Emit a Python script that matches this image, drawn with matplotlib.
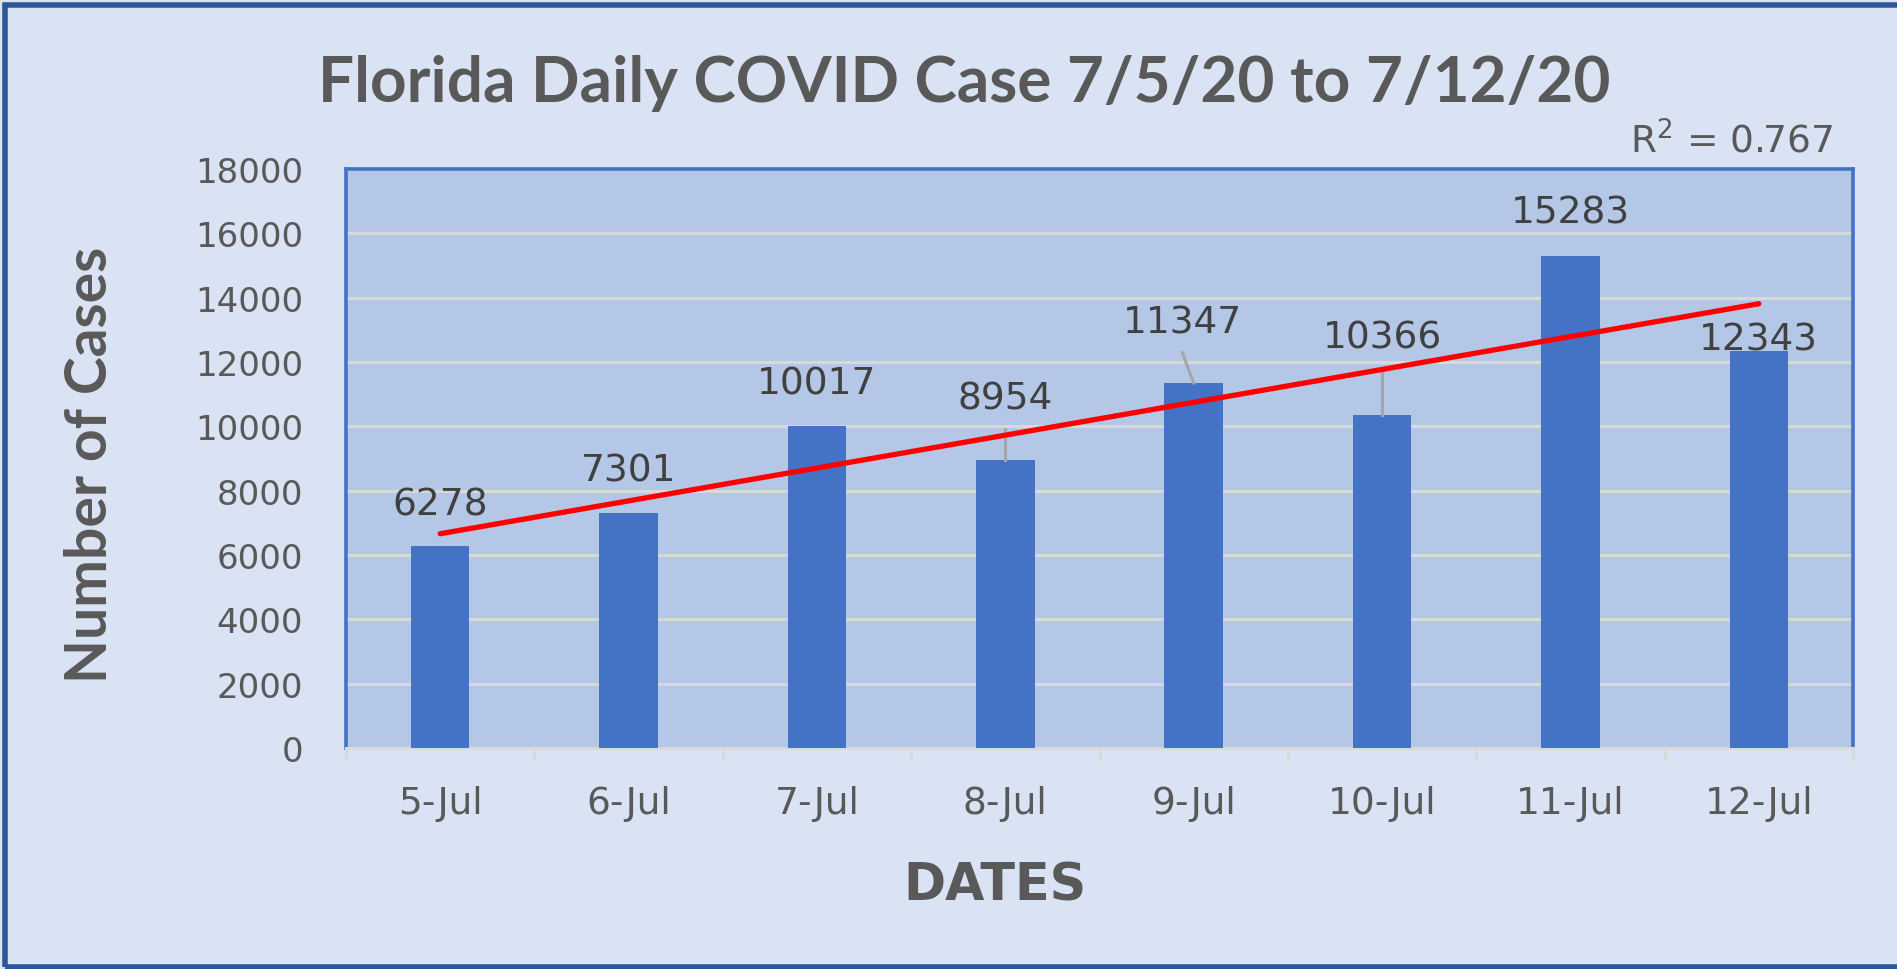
import numpy as np
import matplotlib
matplotlib.use("Agg")
import matplotlib.pyplot as plt
from matplotlib.patches import Rectangle

# data
dates = ["5-Jul", "6-Jul", "7-Jul", "8-Jul", "9-Jul", "10-Jul", "11-Jul", "12-Jul"]
cases = [6278, 7301, 10017, 8954, 11347, 10366, 15283, 12343]
yticks = [0, 2000, 4000, 6000, 8000, 10000, 12000, 14000, 16000, 18000]

# label placement (offset of label centre from bar top, x shift), leader lines
label_dy = [1300, 1340, 1330, 1900, 1890, 2410, 1350, 370]
label_dx = [0, 0, 0, 0, -0.06, 0, 0, 0]
leader = [False, False, False, True, True, True, False, False]

fig_bg = "#DAE3F3"
plot_bg = "#B4C7E7"
bar_col = "#4472C4"
grid_col = "#D9D9D9"
txt_col = "#595959"

fig = plt.figure(figsize=(18.97, 9.70), dpi=100)
fig.patch.set_facecolor(fig_bg)
ax = fig.add_axes([346/1897, 1 - 749/970, (1853-346)/1897, (749-170)/970])
ax.set_facecolor(plot_bg)

x = np.arange(len(cases))
ax.bar(x, cases, width=0.31, color=bar_col, zorder=3)

# linear trendline, like excel
b, a = np.polyfit(x, cases, 1)
fit = a + b * x
r2 = 1 - np.sum((np.array(cases) - fit)**2) / np.sum((np.array(cases) - np.mean(cases))**2)
ax.plot([x[0], x[-1]], [fit[0], fit[-1]], color="#FF0000", lw=3.8, zorder=5,
        solid_capstyle="round")

for i, v in enumerate(cases):
    ly = v + label_dy[i]
    lx = x[i] + label_dx[i]
    ax.text(lx, ly, str(v), ha="center", va="center", fontsize=27,
            color="#404040", zorder=6)
    if leader[i]:
        ax.plot([lx, x[i]], [ly - 950, v], color="#A6A6A6", lw=2.2, zorder=4)

ax.set_xlim(-0.5, len(cases) - 0.5)
ax.set_ylim(0, 18000)
ax.set_yticks(yticks)
ax.set_yticklabels([str(t) for t in yticks])
ax.set_xticks(x)
ax.set_xticklabels(dates)
ax.set_xticks(np.arange(-0.5, len(cases), 1), minor=True)
ax.tick_params(axis="y", length=0, pad=31, labelsize=24.5, labelcolor=txt_col)
ax.tick_params(axis="x", which="major", length=0, pad=27, labelsize=27,
               labelcolor=txt_col)
ax.tick_params(axis="x", which="minor", length=9, width=2, color=grid_col)
ax.grid(axis="y", color=grid_col, lw=2.2, zorder=1)
ax.set_axisbelow(True)

for s in ["left", "right", "top"]:
    ax.spines[s].set_color(bar_col)
    ax.spines[s].set_linewidth(2.6)
ax.spines["bottom"].set_color(grid_col)
ax.spines["bottom"].set_linewidth(2.2)

fig.text(964/1897, 1 - 84/970, "Florida Daily COVID Case 7/5/20 to 7/12/20",
         ha="center", va="center", fontsize=46, fontweight="bold",
         family="Lato", color=txt_col)
fig.text(91/1897, 1 - 465/970, "Number of Cases", rotation=90, ha="center",
         va="center", fontsize=41, fontweight="bold", family="Lato", color=txt_col)
fig.text(995/1897, 1 - 887/970, "DATES", ha="center", va="center",
         fontsize=36.5, fontweight="bold", color=txt_col)
fig.text(1833/1897, 1 - 142/970, "R$^2$ = %.3f" % r2, ha="right", va="center",
         fontsize=27, color=txt_col)

# outer chart border (no right edge in the original)
fig.patches.append(Rectangle((5/1897, 2/970), 1.2, 1 - 8/970, transform=fig.transFigure,
                             fill=False, edgecolor="#2F5597", lw=4, zorder=10))

fig.savefig("out.png", dpi=100, facecolor=fig.get_facecolor())
